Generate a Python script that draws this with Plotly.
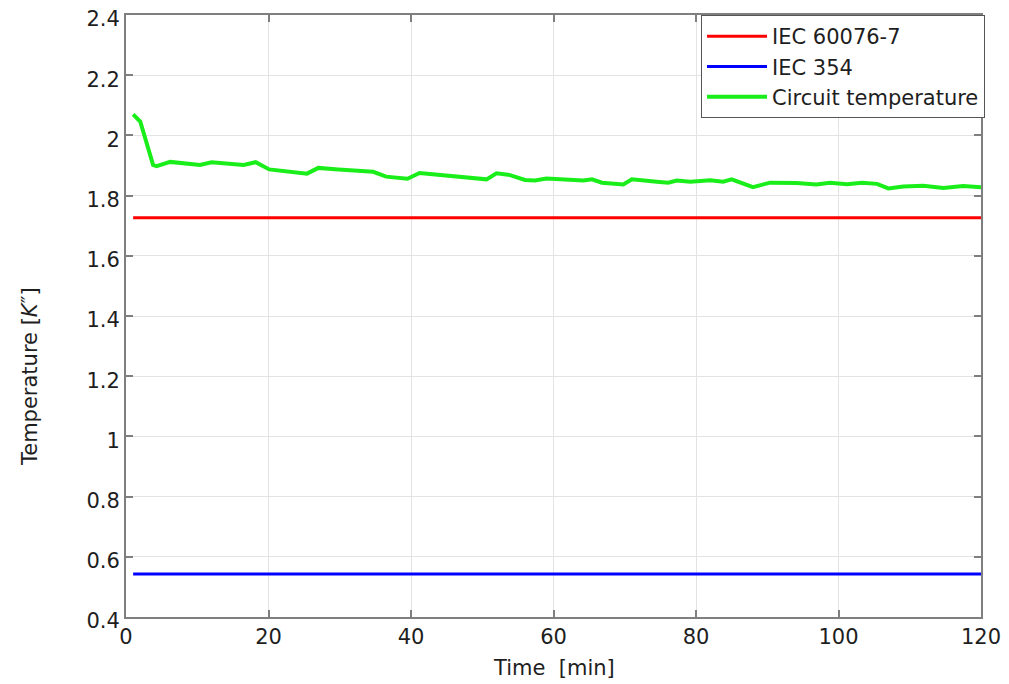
import plotly.graph_objects as go

# ---- data ----
time_min = [1.0, 2.0, 3.8, 4.3, 6.2, 10.4, 12.0, 16.5, 18.2, 20.1, 25.4, 27.0, 29.8,
            34.7, 36.5, 39.5, 41.2, 45.5, 50.6, 52.0, 53.9, 56.0, 57.4, 59.0, 64.2,
            65.4, 66.8, 69.8, 71.0, 74.5, 76.1, 77.3, 79.2, 82.0, 83.8, 85.0, 88.0,
            90.4, 94.1, 96.9, 98.8, 101.2, 103.3, 105.4, 107.0, 109.1, 111.9, 114.7,
            117.5, 120.0]
circuit_temp = [2.070, 2.046, 1.902, 1.898, 1.912, 1.902, 1.911, 1.902, 1.911, 1.887,
                1.873, 1.892, 1.887, 1.879, 1.863, 1.856, 1.875, 1.865, 1.854, 1.874,
                1.868, 1.852, 1.850, 1.857, 1.850, 1.854, 1.843, 1.837, 1.854, 1.846,
                1.843, 1.850, 1.846, 1.851, 1.846, 1.854, 1.828, 1.843, 1.842, 1.837,
                1.843, 1.838, 1.843, 1.839, 1.824, 1.830, 1.833, 1.825, 1.832, 1.828]
limit_x = [1, 120]
iec_60076_7 = [1.726, 1.726]
iec_354 = [0.543, 0.543]

x_ticks = [0, 20, 40, 60, 80, 100, 120]
y_ticks = [0.4, 0.6, 0.8, 1.0, 1.2, 1.4, 1.6, 1.8, 2.0, 2.2, 2.4]
y_tick_labels = ["0.4", "0.6", "0.8", "1", "1.2", "1.4", "1.6", "1.8", "2", "2.2", "2.4"]

FONT = "DejaVu Sans"
AX = "#7f7f7f"
TXT = "#1e1e1e"

fig = go.Figure()
fig.add_trace(go.Scatter(x=limit_x, y=iec_60076_7, mode="lines", name="IEC 60076-7",
                         line=dict(color="#ff0000", width=3)))
fig.add_trace(go.Scatter(x=limit_x, y=iec_354, mode="lines", name="IEC 354",
                         line=dict(color="#0000ff", width=3)))
fig.add_trace(go.Scatter(x=time_min, y=circuit_temp, mode="lines", name="Circuit temperature",
                         line=dict(color="#1aee1a", width=4)))

axis_common = dict(showline=True, linecolor=AX, linewidth=2, mirror="ticks",
                   ticks="inside", ticklen=7, tickcolor=AX, tickwidth=1.5,
                   showgrid=True, gridcolor="#e3e3e3", gridwidth=1, zeroline=False,
                   automargin=False, ticklabeloverflow="allow",
                   tickfont=dict(family=FONT, size=21, color=TXT))

fig.update_xaxes(range=[0, 120], tickvals=x_ticks, **axis_common)
fig.update_yaxes(range=[0.4, 2.4], tickvals=y_ticks, ticktext=y_tick_labels,
                 ticklabelshift=4, **axis_common)

# the page body adds an 8px offset, so the figure is sized to fit the window
fig.update_layout(
    width=1001, height=676,
    margin=dict(l=118, r=28, t=7, b=67, autoexpand=False),
    paper_bgcolor="white", plot_bgcolor="white",
    font=dict(family=FONT, size=21, color=TXT),
    showlegend=True,
    legend=dict(x=1.0047, y=1.0, xanchor="right", yanchor="top",
                bgcolor="white", bordercolor="#555555", borderwidth=1,
                font=dict(family=FONT, size=21, color=TXT),
                itemwidth=60, tracegroupgap=0),
    annotations=[
        dict(text="Time\u00a0 [min]", x=0.5, y=-0.085, xref="paper", yref="paper",
             xanchor="center", yanchor="middle", showarrow=False,
             font=dict(family=FONT, size=21, color=TXT)),
        dict(text="Temperature [<i>K</i>\u2033]", x=-0.112, y=0.399, xref="paper", yref="paper",
             xanchor="center", yanchor="middle", textangle=-90, showarrow=False,
             font=dict(family=FONT, size=21, color=TXT)),
    ],
)

fig.write_html("out.html")
